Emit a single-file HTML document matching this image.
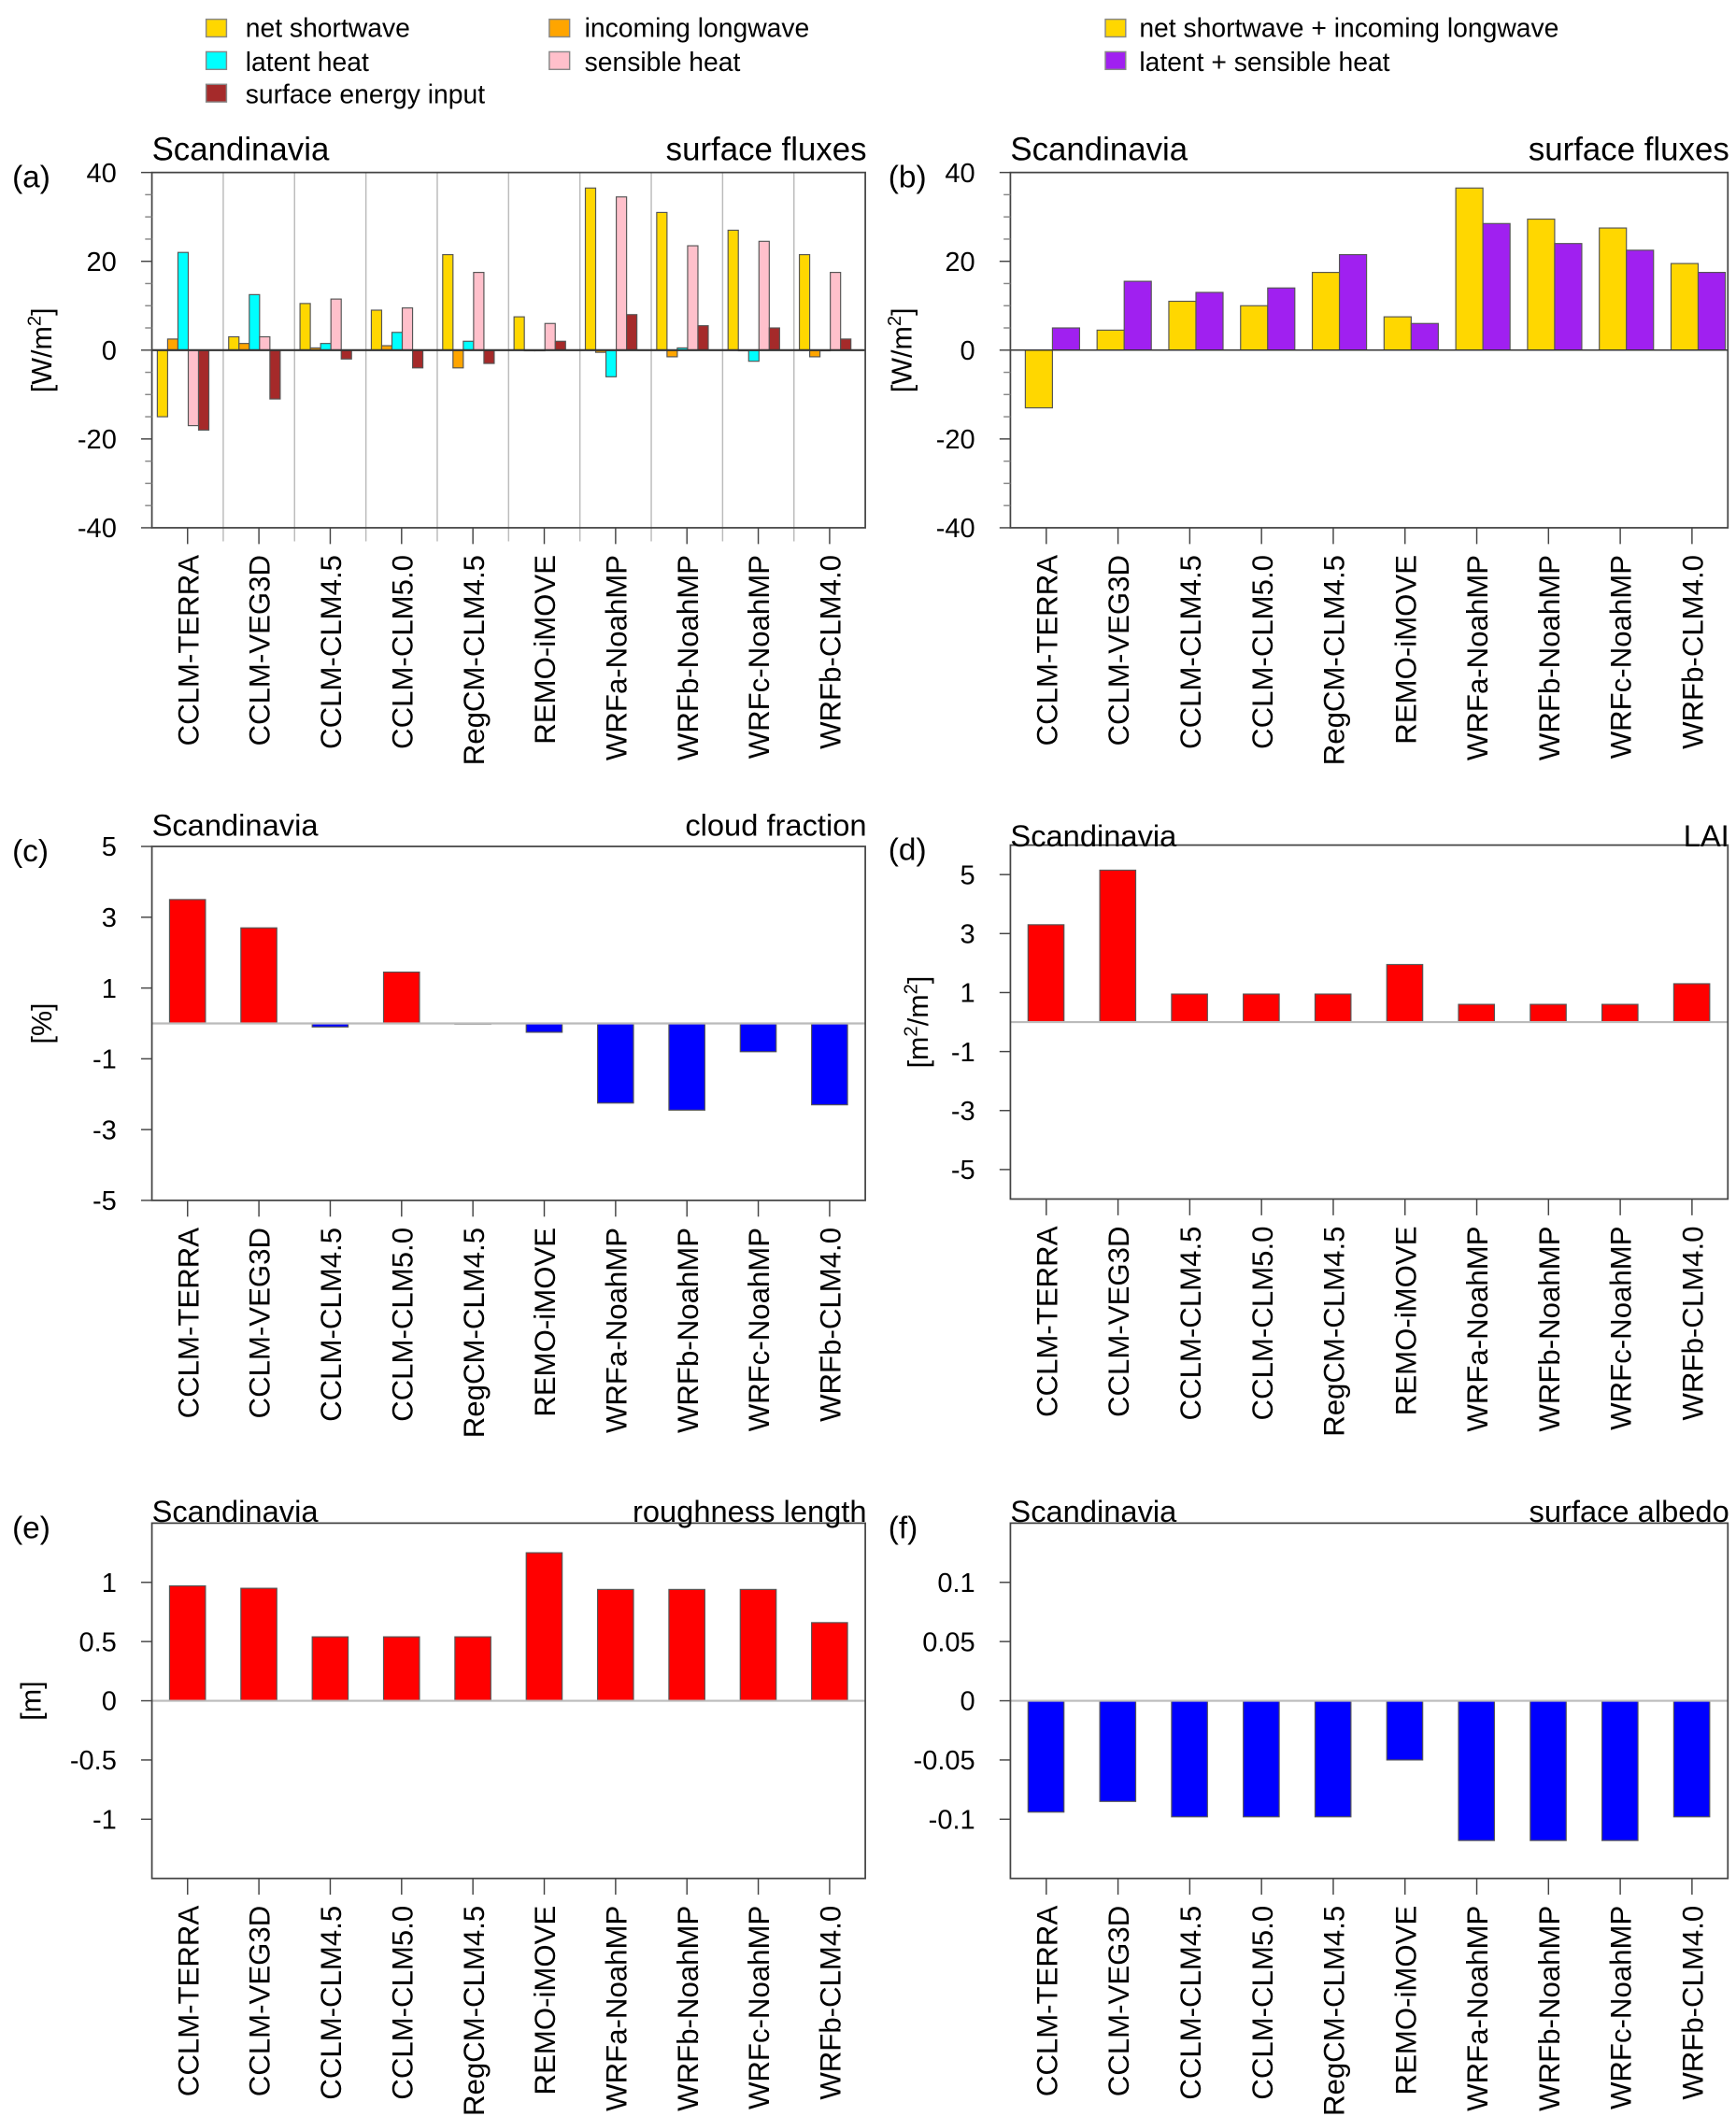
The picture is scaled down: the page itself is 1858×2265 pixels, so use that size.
<!DOCTYPE html>
<html><head><meta charset="utf-8"><style>
html,body{margin:0;padding:0;background:#fff}
svg{display:block}
text{font-family:"Liberation Sans",Arial,sans-serif;fill:#000}
</style></head><body>
<svg id="fig" width="1858" height="2265" viewBox="0 0 1280 1560" xmlns="http://www.w3.org/2000/svg">
<g font-size="19.5">
 <g><rect x="152" y="14" width="15" height="13" fill="#ffd700" stroke="#888"/><text x="181" y="27">net shortwave</text></g>
 <g><rect x="152" y="38" width="15" height="13" fill="#00ffff" stroke="#888"/><text x="181" y="52">latent heat</text></g>
 <g><rect x="152" y="62" width="15" height="13" fill="#a52a2a" stroke="#888"/><text x="181" y="76">surface energy input</text></g>
 <g><rect x="405" y="14" width="15" height="13" fill="#ffa500" stroke="#888"/><text x="431" y="27">incoming longwave</text></g>
 <g><rect x="405" y="38" width="15" height="13" fill="#ffc0cb" stroke="#888"/><text x="431" y="52">sensible heat</text></g>
 <g><rect x="815" y="14" width="15" height="13" fill="#ffd700" stroke="#888"/><text x="840" y="27">net shortwave + incoming longwave</text></g>
 <g><rect x="815" y="38" width="15" height="13" fill="#a020f0" stroke="#888"/><text x="840" y="52">latent + sensible heat</text></g>
</g>
</svg>
<script>
const categories=["CCLM-TERRA","CCLM-VEG3D","CCLM-CLM4.5","CCLM-CLM5.0","RegCM-CLM4.5","REMO-iMOVE","WRFa-NoahMP","WRFb-NoahMP","WRFc-NoahMP","WRFb-CLM4.0"];
// panel a
const aShortwave=[-15,3,10.5,9,21.5,7.5,36.5,31,27,21.5];
const aLongwave=[2.5,1.5,0.5,1,-4,0,-0.5,-1.5,0,-1.5];
const aLatent=[22,12.5,1.5,4,2,0,-6,0.5,-2.5,0];
const aSensible=[-17,3,11.5,9.5,17.5,6,34.5,23.5,24.5,17.5];
const aEnergyInput=[-18,-11,-2,-4,-3,2,8,5.5,5,2.5];
// panel b
const bSwLw=[-13,4.5,11,10,17.5,7.5,36.5,29.5,27.5,19.5];
const bLatSens=[5,15.5,13,14,21.5,6,28.5,24,22.5,17.5];
// panel c-f
const cCloud=[3.5,2.7,-0.1,1.45,0,-0.25,-2.25,-2.45,-0.8,-2.3];
const dLAI=[3.3,5.15,0.95,0.95,0.95,1.95,0.6,0.6,0.6,1.3];
const eRough=[0.97,0.95,0.54,0.54,0.54,1.25,0.94,0.94,0.94,0.66];
const fAlbedo=[-0.094,-0.085,-0.098,-0.098,-0.098,-0.05,-0.118,-0.118,-0.118,-0.098];
const ticksAB=[40,20,0,-20,-40];
const ticksCD=[5,3,1,-1,-3,-5];
const ticksE=[1,0.5,0,-0.5,-1];
const ticksF=[0.1,0.05,0,-0.05,-0.1];

const svg=document.getElementById('fig');
const NS='http://www.w3.org/2000/svg';
function mk(tag,attrs,parent){const e=document.createElementNS(NS,tag);for(const k in attrs)e.setAttribute(k,attrs[k]);(parent||svg).appendChild(e);return e;}

function panel(p){
 const g=mk('g',{});
 
 
 const W=p.x1-p.x0, cw=W/categories.length;
 const ys=v=>p.y1-(v-p.min)/(p.max-p.min)*(p.y1-p.y0);
 const xc=i=>p.x0+cw*(i+0.5);
 if(p.sep){for(let i=1;i<categories.length;i++){const l=mk('line',{x1:p.x0+cw*i,x2:p.x0+cw*i,y1:p.y0,y2:p.y1+10,stroke:'#bbb','stroke-width':1},g);}}
 p.series.forEach((s,si)=>{
  s.vals.forEach((v,i)=>{
   const x=p.x0+cw*i+p.off+si*p.bw;
   const y=Math.min(ys(v),ys(0)),h=Math.abs(ys(v)-ys(0));
   const r=mk('rect',{x:x,y:y,width:p.bw,height:Math.max(h,0.5),fill:s.color?s.color:(v>=0?'#ff0000':'#0000ff'),stroke:'#555','stroke-width':0.8},g);
   
   
  });
 });
 const z=mk('line',{x1:p.x0,x2:p.x1,y1:ys(0),y2:ys(0),stroke:p.zc||'#333','stroke-width':p.zw||1.5},g);
 
 
 const b=mk('rect',{x:p.x0,y:p.y0,width:W,height:p.y1-p.y0,fill:'none',stroke:'#444','stroke-width':1.2},g);
 
 
 p.ticks.forEach(t=>{
  mk('line',{x1:p.x0-8,x2:p.x0,y1:ys(t),y2:ys(t),stroke:'#444'},g);
  const tx=mk('text',{x:p.x0-26,y:ys(t)+7,'text-anchor':'end','font-size':20},g);
  tx.textContent=String(t);
  
  
 });
 if(p.minor){p.minor.forEach(t=>mk('line',{x1:p.x0-5,x2:p.x0,y1:ys(t),y2:ys(t),stroke:'#888'},g));}
 categories.forEach((c,i)=>{
  mk('line',{x1:xc(i),x2:xc(i),y1:p.y1,y2:p.y1+12,stroke:'#444'},g);
  const tx=mk('text',{transform:`translate(${xc(i)+8},${p.y1+20}) rotate(-90)`,'text-anchor':'end','font-size':21.5},g);
  tx.textContent=c;
  
  
 });
 const t1=mk('text',{x:p.x0,y:p.ty,'font-size':p.tfs||24},g);t1.textContent='Scandinavia';
 
 
 const t2=mk('text',{x:p.x1+1,y:p.ty,'font-size':p.tfs||24,'text-anchor':'end'},g);t2.textContent=p.title;
 
 
 const pl=mk('text',{x:p.lx,y:p.y0+11,'font-size':23},g);pl.textContent='('+p.id+')';
 
 
 const yl=mk('text',{transform:`translate(${p.yl},${(p.y0+p.y1)/2}) rotate(-90)`,'text-anchor':'middle','font-size':21},g);
 yl.innerHTML=p.unit;
 
 
}
const minorAB=[35,30,25,15,10,5,-5,-10,-15,-25,-30,-35];
panel({id:'a',lx:9,x0:112,x1:638,y0:127,y1:389,min:-40,max:40,ticks:ticksAB,minor:minorAB,sep:true,off:4,bw:7.6,ty:118,title:'surface fluxes',yl:38,
 unit:'[W/m<tspan dy="-8" font-size="14">2</tspan><tspan dy="8">]</tspan>',
 series:[{name:'net-shortwave',vals:aShortwave,color:'#ffd700'},{name:'incoming-longwave',vals:aLongwave,color:'#ffa500'},{name:'latent-heat',vals:aLatent,color:'#00ffff'},{name:'sensible-heat',vals:aSensible,color:'#ffc0cb'},{name:'surface-energy-input',vals:aEnergyInput,color:'#a52a2a'}]});
panel({id:'b',lx:655,x0:745,x1:1274,y0:127,y1:389,min:-40,max:40,ticks:ticksAB,minor:minorAB,sep:false,off:11,bw:20,ty:118,title:'surface fluxes',yl:672,zc:'#333',zw:1,
 unit:'[W/m<tspan dy="-8" font-size="14">2</tspan><tspan dy="8">]</tspan>',
 series:[{name:'sw-plus-lw',vals:bSwLw,color:'#ffd700'},{name:'latent-plus-sensible',vals:bLatSens,color:'#a020f0'}]});
panel({id:'c',lx:9,x0:112,x1:638,y0:624,y1:885,min:-5,max:5,ticks:ticksCD,sep:false,off:13,bw:26.5,ty:616,tfs:22.5,title:'cloud fraction',yl:38,zc:'#bbb',zw:1.5,
 unit:'[%]',series:[{name:'cloud-fraction',vals:cCloud}]});
panel({id:'d',lx:655,x0:745,x1:1274,y0:623,y1:884,min:-6,max:6,ticks:ticksCD,sep:false,off:13,bw:26.5,ty:624,tfs:22.5,title:'LAI',yl:684,zc:'#bbb',zw:1.5,
 unit:'[m<tspan dy="-8" font-size="14">2</tspan><tspan dy="8">/m</tspan><tspan dy="-8" font-size="14">2</tspan><tspan dy="8">]</tspan>',
 series:[{name:'lai',vals:dLAI}]});
panel({id:'e',lx:9,x0:112,x1:638,y0:1123,y1:1385,min:-1.5,max:1.5,ticks:ticksE,sep:false,off:13,bw:26.5,ty:1122,tfs:22.5,title:'roughness length',yl:30,zc:'#bbb',zw:1.5,
 unit:'[m]',series:[{name:'roughness-length',vals:eRough}]});
panel({id:'f',lx:655,x0:745,x1:1274,y0:1123,y1:1385,min:-0.15,max:0.15,ticks:ticksF,sep:false,off:13,bw:26.5,ty:1122,tfs:22.5,title:'surface albedo',yl:684,zc:'#bbb',zw:1.5,
 unit:'',series:[{name:'surface-albedo',vals:fAlbedo}]});
</script>
</body></html>
